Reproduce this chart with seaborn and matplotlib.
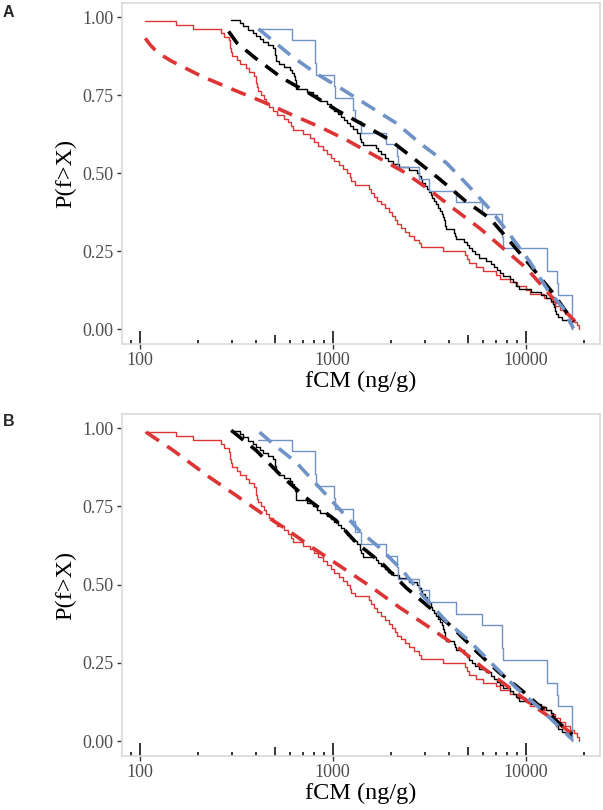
import numpy as np
import pandas as pd
import matplotlib
matplotlib.use("Agg")
import matplotlib.pyplot as plt
import seaborn as sns
from matplotlib.ticker import FixedLocator, NullFormatter, FixedFormatter

# ---------------- data ----------------
groups = ["red", "black", "blue"]

red_fcm = [106, 155, 189, 265, 272, 292, 293, 295, 297, 300,
           318, 330, 355, 370, 392, 401, 402, 404, 410, 425,
           440, 452, 470, 490, 515, 560, 590, 605, 625, 700,
           760, 800, 840, 890, 930, 980, 1020, 1080, 1130, 1190,
           1225, 1250, 1300, 1540, 1580, 1640, 1700, 1780, 1860, 1960,
           2020, 2100, 2150, 2250, 2380, 2480, 2650, 2810, 2870, 3710,
           4850, 4950, 5100, 5500, 5980, 7000, 7400, 8300, 9000, 10000,
           10500, 12500, 13500, 14200, 15000, 16000, 17000, 17800, 18400, 18800]

black_fcm = [298, 330, 345, 365, 385, 400, 418, 435, 460, 488,
             500, 505, 508, 510, 528, 560, 600, 615, 630, 640,
             643, 645, 646, 740, 790, 830, 860, 930, 975, 1015,
             1060, 1100, 1140, 1180, 1225, 1275, 1330, 1380, 1390, 1400,
             1430, 1680, 1720, 1790, 1860, 1940, 2050, 2200, 2500, 2720,
             2800, 2870, 2920, 3000, 3090, 3160, 3220, 3280, 3350, 3430,
             3520, 3600, 3670, 3720, 3770, 3800, 3830, 3860, 4250, 4300,
             4340, 4800, 4950, 5060, 5250, 5450, 5750, 6200, 6600, 6850,
             7100, 7350, 7650, 8250, 8550, 8880, 9200, 10600, 12000, 12700,
             13500, 13850, 14000, 14200, 14400, 14700, 15500, 16800, 17100, 17400]

blue_fcm = [409, 617, 807, 810, 820, 1020, 1025, 1269, 1300, 1402,
            1887, 2167, 2170, 2807, 3164, 4342, 5970, 7574, 7580, 7590,
            12850, 12860, 14490, 14700, 17420, 17430, 17440]

# fitted curves, panel A
fitA_red_x = [107, 113, 120, 130, 147, 210, 301, 430, 615, 880, 1183, 1690,
              2323, 3150, 4220, 5800, 7650, 10120, 13370, 18370]
fitA_red_p = [0.932, 0.912, 0.895, 0.878, 0.858, 0.810, 0.769, 0.730, 0.687, 0.645,
              0.606, 0.553, 0.505, 0.448, 0.387, 0.323, 0.259, 0.195, 0.110, 0.019]
fitA_black_x = [289, 319, 397, 546, 751, 1050, 1500, 1982, 2618, 3600, 4850,
                6530, 8300, 10520, 13900, 17660]
fitA_black_p = [0.954, 0.917, 0.869, 0.805, 0.757, 0.702, 0.649, 0.606, 0.548, 0.480,
                0.412, 0.355, 0.281, 0.206, 0.115, 0.024]
fitA_blue_x = [413, 484, 615, 813, 1100, 1560, 2140, 2830, 3900, 5150, 6650,
               8300, 10520, 12850, 15680, 17660]
fitA_blue_p = [0.962, 0.927, 0.874, 0.821, 0.772, 0.713, 0.660, 0.596, 0.532, 0.454,
               0.379, 0.302, 0.216, 0.131, 0.067, 0.003]

# fitted curves, panel B
fitB_red_x = [108, 149, 230, 316, 434, 574, 757, 1082, 1548, 2213, 3164, 4342,
              5970, 8200, 11270, 14280, 18880]
fitB_red_p = [0.987, 0.929, 0.843, 0.785, 0.726, 0.678, 0.625, 0.561, 0.497, 0.428,
              0.364, 0.305, 0.236, 0.172, 0.108, 0.065, 0.006]
fitB_black_x = [298, 401, 551, 757, 1041, 1320, 1816, 2395, 3164, 4175, 5513,
                7274, 9610, 13200, 17420]
fitB_black_p = [0.993, 0.929, 0.843, 0.769, 0.705, 0.635, 0.566, 0.491, 0.428, 0.364,
                0.289, 0.220, 0.161, 0.086, 0.022]
fitB_blue_x = [418, 490, 646, 820, 1041, 1373, 1742, 2303, 2923, 3856, 5093,
               6730, 8880, 11720, 17420]
fitB_blue_p = [0.987, 0.950, 0.891, 0.822, 0.753, 0.673, 0.619, 0.545, 0.465, 0.385,
               0.321, 0.246, 0.172, 0.108, 0.006]

x_breaks = [100, 1000, 10000]
x_labels = ["100", "1000", "10000"]
y_breaks = [0.0, 0.25, 0.5, 0.75, 1.0]
y_labels = ["0.00", "0.25", "0.50", "0.75", "1.00"]

# ---------------- style ----------------
sns.set_theme(style="white")
plt.rcParams["font.family"] = ["Liberation Serif", "DejaVu Serif"]

palette = {"red": "#DD3535", "black": "#000000", "blue": "#7093C7"}
dash = (0, (4.3, 2.7))


def survival_table():
    rows = []
    for g, vals in zip(groups, [red_fcm, black_fcm, blue_fcm]):
        v = np.sort(np.asarray(vals, dtype=float))
        n = len(v)
        p = 1 - np.arange(1, n + 1) / n
        rows.append(pd.DataFrame({"fCM": v, "P": p, "group": g}))
    return pd.concat(rows, ignore_index=True)


steps = survival_table()

fig = plt.figure(figsize=(6.03, 8.10), dpi=100)
axA = fig.add_axes([122 / 603, 1 - 344 / 810, 478 / 603, 341 / 810])
axB = fig.add_axes([122 / 603, 1 - 756 / 810, 478 / 603, 342 / 810])

fits = {
    axA: [(fitA_red_x, fitA_red_p, "red"), (fitA_black_x, fitA_black_p, "black"),
          (fitA_blue_x, fitA_blue_p, "blue")],
    axB: [(fitB_red_x, fitB_red_p, "red"), (fitB_black_x, fitB_black_p, "black"),
          (fitB_blue_x, fitB_blue_p, "blue")],
}

minor_ticks = [90, 200, 300, 400, 600, 700, 800, 900,
               2000, 3000, 4000, 6000, 7000, 8000, 9000, 20000]

for ax in (axA, axB):
    sns.lineplot(data=steps, x="fCM", y="P", hue="group", palette=palette,
                 drawstyle="steps-post", estimator=None, sort=False,
                 lw=1.0, legend=False, ax=ax)
    for fx, fp, g in fits[ax]:
        sns.lineplot(x=fx, y=fp, color=palette[g], lw=2.6, linestyle=dash,
                     estimator=None, sort=False, ax=ax)
    ax.set_xscale("log")
    ax.set_xlim(81, 24270)
    ax.set_ylim(-0.047, 1.045)
    ax.xaxis.set_major_locator(FixedLocator(x_breaks))
    ax.xaxis.set_major_formatter(FixedFormatter(x_labels))
    ax.xaxis.set_minor_locator(FixedLocator(minor_ticks))
    ax.xaxis.set_minor_formatter(NullFormatter())
    ax.set_yticks(y_breaks)
    ax.set_yticklabels(y_labels)
    ax.tick_params(axis="x", which="major", direction="out", length=3.6, width=1.0,
                   color="#333333", labelsize=13, labelcolor="#4D4D4D", pad=2.5,
                   bottom=True)
    ax.tick_params(axis="x", which="minor", direction="in", length=3.1, width=1.1,
                   color="black", bottom=True)
    ax.tick_params(axis="y", which="major", direction="out", length=3.6, width=1.0,
                   color="#333333", labelsize=13, labelcolor="#4D4D4D", pad=2.5,
                   left=True)
    for s in ax.spines.values():
        s.set_color("#D9D9D9")
        s.set_linewidth(1.2)
    ax.set_xlabel("fCM (ng/g)", fontsize=17.5, color="black", labelpad=1)
    ax.set_ylabel("P(f>X)", fontsize=17.5, color="black", labelpad=4)
    ax.grid(False)

    sec = ax.secondary_xaxis("bottom")
    sec.xaxis.set_major_locator(FixedLocator(x_breaks))
    sec.xaxis.set_major_formatter(NullFormatter())
    sec.xaxis.set_minor_locator(FixedLocator([500, 5000]))
    sec.xaxis.set_minor_formatter(NullFormatter())
    sec.tick_params(axis="x", which="major", direction="in", length=9.1, width=1.1,
                    color="black")
    sec.tick_params(axis="x", which="minor", direction="in", length=6.7, width=1.1,
                    color="black")
    for s in sec.spines.values():
        s.set_visible(False)

fig.text(3 / 603, 1 - 5 / 810, "A", fontsize=11.5, fontweight="bold",
         family="Liberation Sans", va="top", ha="left")
fig.text(3 / 603, 1 - 414 / 810, "B", fontsize=11.5, fontweight="bold",
         family="Liberation Sans", va="top", ha="left")

fig.savefig("out.png", dpi=100)
